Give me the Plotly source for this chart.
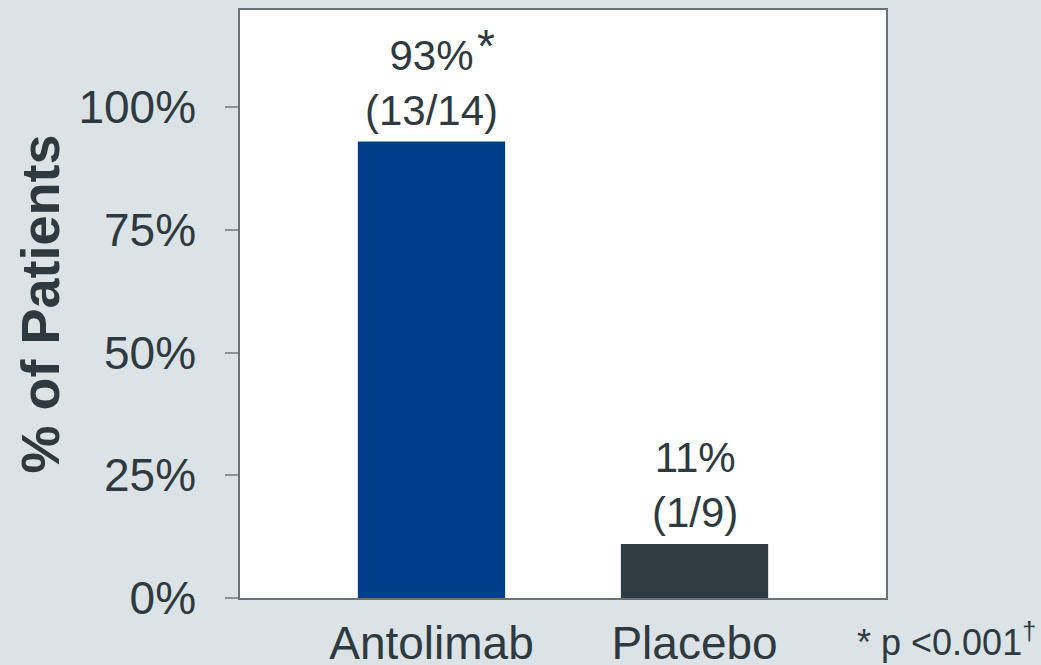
import plotly.graph_objects as go

categories = ["Antolimab", "Placebo"]
percent_values = [93, 11]
responders = [13, 1]
totals = [14, 9]
bar_colors = ["#003f87", "#323d43"]
significance = ["*", ""]
y_ticks = [0, 25, 50, 75, 100]
y_tick_labels = ["0%", "25%", "50%", "75%", "100%"]
footnote = "* p <0.001<sup>†</sup>"

TEXT = "#2e3a40"
BG = "#dce3e6"
FONT = "Liberation Sans, Arial, sans-serif"

fig = go.Figure()
fig.add_trace(go.Bar(
    x=categories, y=percent_values,
    marker=dict(color=bar_colors, line=dict(width=0)),
    width=0.56, hoverinfo="skip",
))

for cat, v, r, t, s in zip(categories, percent_values, responders, totals, significance):
    fig.add_annotation(
        x=cat, y=v, xref="x", yref="y",
        text=f"{v}%<br>({r}/{t})", showarrow=False,
        yanchor="bottom", yshift=6,
        font=dict(size=42, color=TEXT, family=FONT),
    )
    if s:
        fig.add_annotation(
            x=cat, y=v, xref="x", yref="y",
            text=s, showarrow=False,
            xanchor="left", yanchor="bottom", xshift=44, yshift=68,
            font=dict(size=46, color=TEXT, family=FONT),
        )

fig.add_annotation(
    x=1, y=0, xref="paper", yref="paper", xanchor="right", yanchor="top",
    xshift=152, yshift=-17,
    text=footnote, showarrow=False,
    font=dict(size=36, color=TEXT, family=FONT),
)

fig.update_layout(
    width=1041, height=665, autosize=False,
    margin=dict(l=240, r=155, t=10, b=67),
    paper_bgcolor=BG, plot_bgcolor="white",
    showlegend=False,
    font=dict(family=FONT, color=TEXT),
)
fig.update_xaxes(
    range=[-0.728, 1.728], showgrid=False, zeroline=False,
    showline=True, linecolor="#6b7275", linewidth=1.5, mirror=True,
    ticks="", tickfont=dict(size=46, color=TEXT, family=FONT),
    ticklabelstandoff=4, automargin=False,
)
fig.update_yaxes(
    range=[0, 119.8], showgrid=False, zeroline=False,
    showline=True, linecolor="#6b7275", linewidth=1.5, mirror=True,
    tickvals=y_ticks, ticktext=y_tick_labels,
    ticks="outside", ticklen=13, tickcolor="#8c9193", tickwidth=1.5,
    tickfont=dict(size=46, color=TEXT, family=FONT),
    ticklabelstandoff=20,
    title=dict(text="<b>% of Patients</b>", font=dict(size=54, color=TEXT, family=FONT), standoff=1),
    automargin=False,
)

fig.write_html(
    "out.html",
    config={"displayModeBar": False, "responsive": False},
    post_script="document.body.style.margin='0';document.body.style.overflow='hidden';",
)
